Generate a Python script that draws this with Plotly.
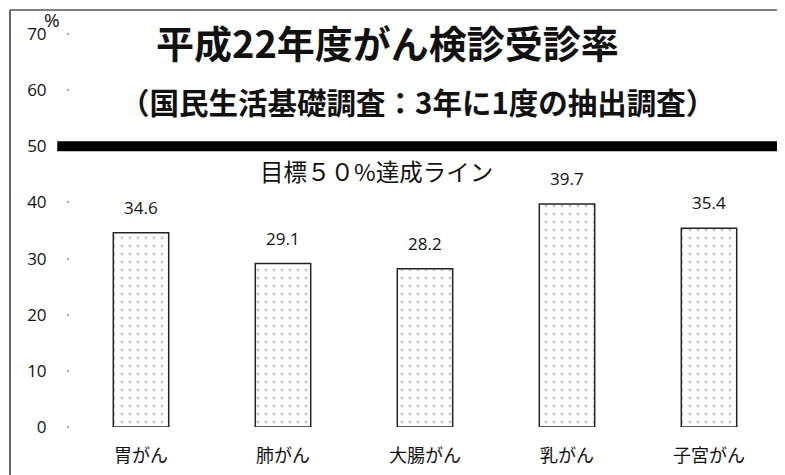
import plotly.graph_objects as go

CATEGORIAS = ["胃がん", "肺がん", "大腸がん", "乳がん", "子宮がん"]
TAXAS = [34.6, 29.1, 28.2, 39.7, 35.4]
META = 50
Y_TICKS = [0, 10, 20, 30, 40, 50, 60, 70]

TITULO = "平成22年度がん検診受診率"
SUBTITULO = "（国民生活基礎調査：3年に1度の抽出調査）"
ROTULO_META = "目標５０%達成ライン"

JP = "Noto Sans CJK JP"
NUM = "Open Sans"
PRETO = "#111111"

fig = go.Figure(go.Bar(
    x=CATEGORIAS,
    y=TAXAS,
    marker=dict(
        color="white",
        line=dict(color="#222222", width=1.5),
        pattern=dict(shape=".", size=8, solidity=0.1, fgcolor="#8a8a8a", bgcolor="white"),
    ),
    width=0.39,
    showlegend=False,
))

for cat, v in zip(CATEGORIAS, TAXAS):
    fig.add_annotation(
        x=cat, y=v, text=f"{v:.1f}", showarrow=False,
        yanchor="bottom", yshift=12,
        font=dict(family=NUM, size=17, color=PRETO),
    )

# linha da meta
fig.add_shape(type="line", xref="paper", yref="y",
              x0=-0.018, x1=0.996, y0=META, y1=META,
              line=dict(color="black", width=10))
fig.add_annotation(xref="paper", yref="y", x=0.265, y=META, yshift=-6,
                   text=ROTULO_META, showarrow=False, yanchor="top", xanchor="left",
                   font=dict(family=JP, size=23.5, color=PRETO))

fig.add_annotation(xref="paper", yref="paper", x=0.447, y=1.0, yshift=-7,
                   text=f"<b>{TITULO}</b>", showarrow=False, yanchor="middle",
                   font=dict(family=JP, size=38, color=PRETO))
fig.add_annotation(xref="paper", yref="paper", x=0.49, y=0.83,
                   text=f"<b>{SUBTITULO}</b>", showarrow=False, yanchor="middle",
                   font=dict(family=JP, size=29.5, color=PRETO))
fig.add_annotation(xref="paper", yref="paper", x=-0.04, y=1.0, yshift=14,
                   text="%", showarrow=False, xanchor="left", yanchor="middle",
                   font=dict(family=NUM, size=19, color=PRETO))

# moldura
fig.add_shape(type="line", xref="paper", yref="paper", x0=-0.0845, x1=-0.0845, y0=1.061, y1=-0.2,
              line=dict(color="#333333", width=1.5))
fig.add_shape(type="line", xref="paper", yref="paper", x0=-0.0845, x1=1.02, y0=1.061, y1=1.061,
              line=dict(color="#555555", width=1.5))

fig.update_layout(
    width=777, height=467,
    paper_bgcolor="white", plot_bgcolor="white",
    margin=dict(l=62, r=5, t=26, b=48),
    bargap=0.61,
    xaxis=dict(showline=False, showgrid=False, ticks="", ticklabelstandoff=16,
               tickfont=dict(family=JP, size=18, color=PRETO)),
    yaxis=dict(range=[0, 70], tickvals=Y_TICKS, showgrid=False, zeroline=False,
               showline=False, ticks="outside", ticklen=2, tickwidth=2, tickcolor="#aaaaaa",
               ticklabelstandoff=17,
               tickfont=dict(family=NUM, size=17, color=PRETO)),
)

fig.write_html("out.html")
